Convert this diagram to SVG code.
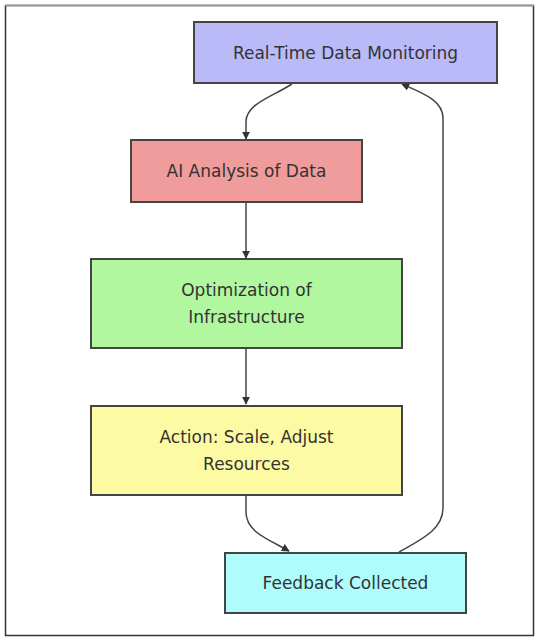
<svg xmlns="http://www.w3.org/2000/svg" width="547" height="641" viewBox="0 0 547 641">
<style>
.node rect{stroke:#444;stroke-width:2}
.node text{font-family:"DejaVu Sans","Liberation Sans",sans-serif;font-size:17px;fill:#333;text-anchor:middle;dominant-baseline:central}
.edge{fill:none;stroke:#444;stroke-width:1.5}
</style>
<defs>
<marker id="arr" viewBox="0 0 10 10" refX="9" refY="5" markerWidth="8" markerHeight="8" orient="auto" markerUnits="userSpaceOnUse">
<path d="M0,0 L10,5 L0,10 z" fill="#333"/>
</marker>
</defs>
<rect x="0" y="0" width="547" height="641" fill="#fff"/>
<rect x="5.5" y="5.5" width="528" height="630" fill="#fff" stroke="#333" stroke-width="1.5"/>
<line x1="5" y1="5.5" x2="534" y2="5.5" stroke="#999" stroke-width="1.5"/>
<g id="connectors">
<path class="edge" d="M292,84 C270,98 246,104 246,122 L246,139" marker-end="url(#arr)"/>
<path class="edge" d="M246,203 L246,258" marker-end="url(#arr)"/>
<path class="edge" d="M246,349 L246,404" marker-end="url(#arr)"/>
<path class="edge" d="M246,495 L246,512 C246,532 268,539 289,551" marker-end="url(#arr)"/>
<path class="edge" d="M399,552 C420,540 443,530 443,508 L443,118 C443,100 422,93 402,84" marker-end="url(#arr)"/>
</g>
<g id="n1" class="node"><rect x="194" y="22" width="303" height="61" fill="#babaf8"/><text x="345.5" y="52.5">Real-Time Data Monitoring</text></g>
<g id="n2" class="node"><rect x="131" y="140" width="231" height="62" fill="#f09c9c"/><text x="246.5" y="171">AI Analysis of Data</text></g>
<g id="n3" class="node"><rect x="91" y="259" width="311" height="89" fill="#b0f7a0"/><text x="246.5" y="290">Optimization of</text><text x="246.5" y="317">Infrastructure</text></g>
<g id="n4" class="node"><rect x="91" y="406" width="311" height="89" fill="#fdfaa4"/><text x="246.5" y="437">Action: Scale, Adjust</text><text x="246.5" y="464">Resources</text></g>
<g id="n5" class="node"><rect x="225" y="553" width="241" height="60" fill="#aefcfc"/><text x="345.5" y="583">Feedback Collected</text></g>
</svg>
